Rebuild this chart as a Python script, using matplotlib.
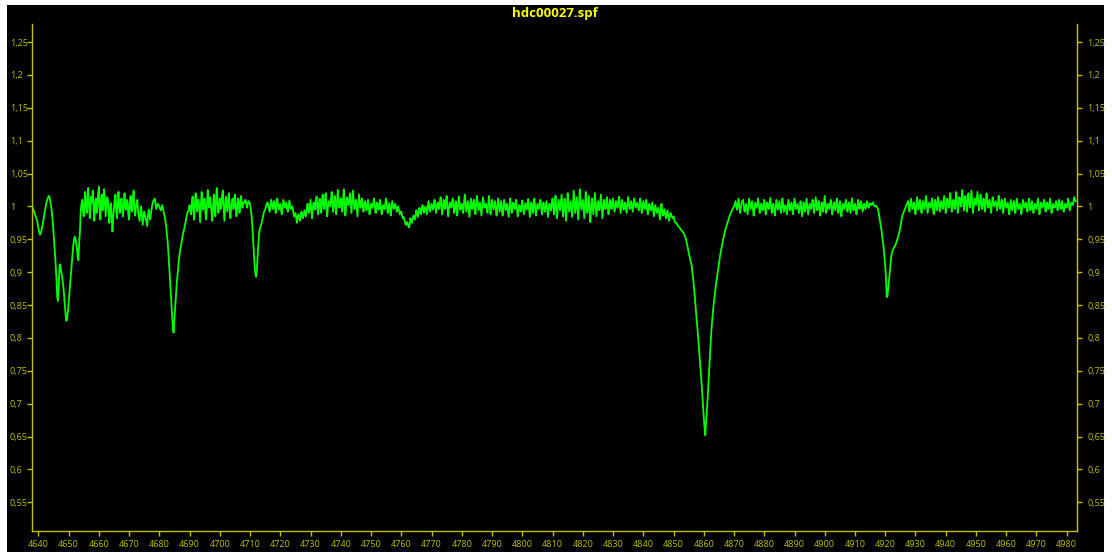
import numpy as np
import matplotlib
matplotlib.use("Agg")
import matplotlib.pyplot as plt
from matplotlib.patches import Rectangle
from matplotlib.ticker import FixedLocator, FuncFormatter

# Spectrum sampling: first wavelength (Angstrom) and step
wave_start = 4638.0
wave_step = 0.25

# Normalised flux, in thousandths, one row per 5 Angstrom
flux_milli = [
    1000, 996, 993, 990, 986, 983, 979, 975, 967, 962, 957, 959, 963, 968, 975, 982, 989, 995, 1002, 1007,
    1011, 1014, 1016, 1013, 1007, 1000, 990, 978, 962, 946, 928, 910, 890, 862, 856, 880, 909, 912, 902, 896,
    888, 878, 866, 850, 836, 826, 828, 840, 852, 868, 882, 896, 910, 924, 938, 948, 954, 952, 944, 936,
    924, 918, 945, 962, 992, 1004, 1010, 994, 985, 1006, 1022, 998, 990, 1012, 1028, 1002, 982, 1000, 1015, 1006,
    1024, 998, 978, 1006, 1012, 990, 996, 1018, 1030, 1002, 980, 1008, 1018, 994, 1002, 1026, 1012, 985, 1000, 1014,
    1010, 990, 975, 998, 1005, 985, 962, 980, 998, 1010, 1018, 996, 982, 1004, 1022, 1000, 990, 1008, 1012, 994,
    985, 1004, 1020, 998, 995, 1010, 1008, 988, 980, 1002, 1016, 996, 992, 1012, 1024, 1000, 986, 998, 1005, 1010,
    990, 984, 978, 992, 1000, 986, 972, 982, 992, 988, 982, 976, 970, 986, 995, 988, 980, 990, 998, 1004,
    1008, 1010, 1012, 1004, 996, 1000, 1004, 1002, 1000, 996, 994, 998, 1002, 996, 990, 985, 978, 970, 958, 946,
    930, 910, 888, 870, 850, 830, 812, 808, 830, 848, 866, 882, 895, 908, 920, 930, 937, 944, 950, 956,
    962, 966, 972, 978, 985, 990, 992, 996, 1002, 994, 988, 1006, 1015, 996, 980, 1004, 1020, 1002, 992, 1010,
    1010, 994, 976, 1002, 1022, 1004, 995, 1010, 1012, 990, 980, 1004, 1025, 1008, 998, 1014, 1006, 990, 978, 996,
    1018, 1000, 985, 1010, 1028, 1006, 990, 1002, 1012, 996, 1000, 1016, 1024, 1000, 978, 996, 1015, 1004, 992, 1008,
    1020, 998, 982, 1000, 1008, 1012, 996, 1004, 1018, 1000, 985, 998, 1012, 1006, 990, 1002, 1016, 1004, 998, 1006,
    1005, 1008, 1010, 1004, 998, 1004, 1008, 1006, 1004, 996, 985, 970, 950, 930, 910, 898, 893, 905, 925, 944,
    960, 966, 970, 974, 978, 984, 990, 993, 995, 1000, 1004, 1006, 1003, 996, 992, 1002, 1010, 1002, 996, 1004,
    1008, 998, 990, 1004, 1012, 1002, 995, 1000, 1004, 994, 988, 998, 1010, 1004, 998, 1002, 1006, 996, 992, 1000,
    1009, 1002, 996, 998, 1000, 992, 985, 988, 990, 982, 975, 984, 988, 982, 978, 986, 992, 986, 982, 988,
    994, 990, 985, 996, 1004, 996, 990, 1000, 1010, 994, 982, 998, 1006, 1000, 995, 1008, 1015, 998, 988, 1004,
    1012, 1000, 990, 1006, 1018, 1004, 996, 1010, 1020, 998, 985, 1000, 1008, 1004, 1000, 1012, 1022, 1004, 992, 1006,
    1016, 1000, 988, 1008, 1025, 1010, 998, 1004, 1012, 1000, 992, 1012, 1026, 1004, 986, 1000, 1014, 1008, 1002, 1010,
    1020, 1004, 990, 1008, 1024, 1010, 996, 1002, 1010, 998, 985, 1004, 1018, 1008, 998, 1006, 1012, 1000, 992, 1002,
    1008, 1000, 994, 1004, 1010, 998, 988, 996, 1004, 1000, 998, 1006, 1012, 1000, 990, 998, 1006, 1000, 995, 1002,
    1010, 998, 988, 996, 1002, 1000, 996, 1006, 1012, 1000, 990, 998, 1005, 994, 986, 998, 1008, 1002, 996, 1000,
    1004, 998, 992, 998, 1000, 994, 988, 992, 992, 986, 982, 984, 980, 976, 972, 975, 976, 972, 968, 972,
    982, 978, 975, 980, 986, 983, 980, 988, 994, 988, 984, 992, 998, 992, 988, 996, 1002, 996, 990, 996,
    1000, 994, 988, 998, 1008, 1000, 992, 998, 1004, 1000, 995, 1004, 1010, 1000, 990, 998, 1006, 1002, 996, 1006,
    1014, 1000, 988, 998, 1010, 1002, 996, 1008, 1016, 998, 985, 996, 1006, 1002, 998, 1006, 1012, 1000, 990, 1000,
    1008, 996, 986, 1002, 1015, 1004, 995, 1000, 1004, 996, 990, 1006, 1018, 1004, 992, 1000, 1008, 996, 984, 998,
    1012, 1004, 996, 1004, 1010, 998, 988, 1002, 1016, 1006, 994, 1000, 1006, 996, 986, 1000, 1014, 1006, 998, 1002,
    1004, 996, 990, 1004, 1016, 1002, 988, 1000, 1010, 1002, 995, 1002, 1008, 996, 986, 1000, 1012, 1002, 992, 1000,
    1008, 996, 986, 998, 1010, 1002, 994, 1000, 1004, 994, 984, 998, 1012, 1000, 990, 998, 1006, 1000, 996, 1004,
    1010, 996, 985, 994, 1002, 996, 992, 1002, 1009, 998, 988, 996, 1005, 1000, 995, 1004, 1011, 996, 984, 996,
    1006, 998, 990, 1002, 1012, 998, 986, 996, 1004, 1000, 996, 1004, 1010, 998, 988, 998, 1006, 998, 992, 1000,
    1008, 996, 984, 996, 1004, 998, 994, 1004, 1012, 1000, 988, 1004, 1016, 998, 982, 998, 1010, 1002, 994, 1006,
    1018, 1000, 985, 1000, 1012, 994, 978, 1000, 1020, 1004, 992, 1000, 1008, 996, 984, 1004, 1024, 1006, 990, 1002,
    1014, 996, 980, 1004, 1026, 1008, 995, 1002, 1010, 996, 982, 1002, 1022, 1004, 990, 1004, 1016, 996, 976, 996,
    1012, 1000, 988, 1004, 1020, 1002, 985, 996, 1008, 1000, 994, 1006, 1018, 1000, 982, 996, 1010, 1002, 996, 1004,
    1014, 1000, 988, 998, 1010, 1004, 996, 1004, 1012, 1002, 992, 1000, 1008, 1002, 998, 1006, 1015, 1002, 990, 1000,
    1010, 1002, 995, 1000, 1006, 998, 990, 1002, 1014, 1004, 996, 1002, 1008, 1000, 992, 1002, 1012, 1004, 998, 1002,
    1006, 1000, 994, 1002, 1012, 1000, 990, 998, 1008, 1002, 996, 1004, 1010, 998, 988, 996, 1004, 998, 994, 1000,
    1006, 996, 985, 994, 1002, 996, 990, 994, 998, 990, 980, 992, 1004, 994, 986, 990, 996, 988, 982, 988,
    994, 986, 978, 984, 990, 986, 984, 982, 985, 980, 976, 975, 975, 972, 970, 969, 968, 966, 964, 963,
    962, 960, 958, 955, 952, 947, 942, 936, 930, 925, 920, 915, 910, 900, 890, 878, 865, 850, 835, 822,
    810, 795, 780, 765, 750, 733, 715, 698, 680, 664, 652, 670, 690, 708, 725, 748, 770, 790, 810, 825,
    838, 850, 860, 870, 880, 888, 895, 904, 913, 920, 928, 934, 940, 946, 952, 957, 962, 966, 970, 974,
    977, 981, 985, 988, 990, 993, 996, 998, 1000, 1004, 1008, 1000, 995, 1004, 1012, 1000, 990, 998, 1005, 1008,
    1010, 1000, 992, 998, 1004, 996, 988, 1000, 1012, 1004, 996, 1002, 1008, 996, 986, 996, 1006, 1002, 998, 1004,
    1012, 1000, 990, 998, 1004, 998, 994, 1002, 1010, 998, 988, 998, 1006, 1000, 996, 1004, 1013, 1000, 990, 998,
    1004, 994, 986, 998, 1010, 1002, 995, 1002, 1008, 998, 990, 1000, 1012, 1002, 992, 998, 1002, 996, 988, 998,
    1010, 1002, 994, 1000, 1006, 996, 988, 1000, 1012, 1004, 996, 1000, 1004, 996, 990, 998, 1008, 996, 985, 996,
    1006, 998, 992, 1002, 1012, 1000, 988, 996, 1004, 1000, 996, 1004, 1010, 998, 990, 1002, 1014, 1004, 994, 1000,
    1008, 996, 986, 996, 1006, 1000, 992, 1004, 1016, 1002, 990, 996, 1004, 1000, 996, 1004, 1010, 998, 988, 998,
    1006, 1000, 994, 1004, 1012, 1000, 990, 998, 1008, 996, 985, 996, 1004, 1000, 996, 1004, 1010, 1000, 992, 1000,
    1006, 998, 990, 1002, 1012, 1002, 994, 1000, 1004, 996, 988, 998, 1010, 1004, 996, 1002, 1008, 1000, 992, 998,
    1004, 1000, 996, 1002, 1008, 1002, 998, 1002, 1005, 1004, 1002, 1004, 1006, 1002, 1000, 1001, 1001, 999, 997, 993,
    985, 979, 972, 964, 955, 946, 935, 923, 910, 890, 862, 865, 875, 888, 900, 912, 925, 930, 933, 936,
    938, 940, 943, 946, 950, 954, 958, 963, 968, 976, 983, 987, 990, 993, 996, 999, 1002, 1004, 1008, 1002,
    992, 1002, 1012, 1004, 996, 1000, 1006, 998, 988, 1002, 1014, 1004, 995, 1002, 1010, 998, 990, 1000, 1008, 1002,
    996, 1006, 1016, 1002, 990, 998, 1006, 1002, 998, 1006, 1012, 1000, 988, 1000, 1010, 1004, 994, 1004, 1014, 1004,
    992, 1000, 1008, 1004, 996, 1006, 1016, 1002, 990, 1002, 1012, 1006, 998, 1008, 1020, 1004, 992, 1000, 1010, 1004,
    996, 1010, 1022, 1004, 990, 1002, 1014, 1008, 1000, 1012, 1025, 1008, 994, 1004, 1016, 1006, 992, 1006, 1020, 1006,
    998, 1012, 1024, 1006, 990, 1000, 1012, 1008, 1002, 1012, 1022, 1006, 994, 1006, 1018, 1006, 996, 1004, 1012, 1004,
    992, 1006, 1020, 1008, 998, 1004, 1010, 1000, 990, 1002, 1014, 1006, 1000, 1004, 1008, 1002, 994, 1004, 1016, 1004,
    996, 1002, 1010, 1000, 990, 1000, 1012, 1004, 998, 1002, 1006, 996, 988, 998, 1010, 1002, 994, 1002, 1008, 1000,
    990, 1000, 1012, 1004, 996, 1000, 1004, 996, 988, 998, 1010, 1004, 998, 1002, 1006, 998, 992, 1002, 1012, 1002,
    994, 1000, 1008, 998, 990, 998, 1004, 1000, 996, 1004, 1012, 1000, 988, 998, 1006, 1002, 998, 1004, 1010, 1002,
    992, 998, 1006, 1000, 996, 1004, 1012, 1000, 990, 998, 1004, 1000, 998, 1002, 1008, 1000, 994, 1002, 1010, 1002,
    996, 1002, 1008, 998, 992, 998, 1004, 1000, 998, 1004, 1012, 1002, 994, 1000, 1006, 1004, 1002, 1008, 1014, 1010,
    1008,
]

x_ticks = list(range(4640, 4981, 10))
y_ticks = [0.55, 0.6, 0.65, 0.7, 0.75, 0.8, 0.85, 0.9, 0.95, 1.0,
           1.05, 1.1, 1.15, 1.2, 1.25]
title_text = "hdc00027.spf"

flux = np.array(flux_milli) / 1000.0
wave = wave_start + wave_step * np.arange(len(flux))

axis_color = "#c0c000"
tick_family = ["Open Sans", "DejaVu Sans"]
tick_size = 6.5
y_range = (0.5068, 1.2774)


def comma_fmt(v, pos):
    s = ("%.2f" % v).rstrip("0").rstrip(".")
    return s.replace(".", ",")


fig = plt.figure(figsize=(11.12, 5.52), dpi=100, facecolor="white")
fig.patches.append(Rectangle((7 / 1112, 0), 1097 / 1112, 547 / 552,
                             transform=fig.transFigure, facecolor="black",
                             edgecolor="none", zorder=-10))

ax = fig.add_axes([32.3 / 1112, 21.3 / 552, 1044.4 / 1112, 506.7 / 552])
ax.set_facecolor("black")
ax.plot(wave, flux, color="#00ff00", lw=1.3, antialiased=True)
ax.set_xlim(4638.0, 4983.3)
ax.set_ylim(*y_range)

ax.spines["top"].set_visible(False)
for side in ("left", "right", "bottom"):
    ax.spines[side].set_color(axis_color)
    ax.spines[side].set_linewidth(1.0)

ax.xaxis.set_major_locator(FixedLocator(x_ticks))
ax.xaxis.set_major_formatter(FuncFormatter(lambda v, p: "%d" % v))
ax.yaxis.set_major_locator(FixedLocator(y_ticks))
ax.yaxis.set_major_formatter(FuncFormatter(comma_fmt))

ax.tick_params(axis="x", colors=axis_color, length=3.5, width=1, pad=3,
               labelsize=tick_size)
ax.tick_params(axis="y", colors=axis_color, length=3.5, width=1,
               pad=12.8, labelsize=tick_size)
for lab in ax.get_xticklabels() + ax.get_yticklabels():
    lab.set_fontfamily(tick_family)
for lab in ax.get_yticklabels():
    lab.set_horizontalalignment("left")

# Right-hand scale repeats the flux ticks
ax2 = ax.twinx()
ax2.set_ylim(*y_range)
ax2.yaxis.set_major_locator(FixedLocator(y_ticks))
ax2.yaxis.set_major_formatter(FuncFormatter(comma_fmt))
for side in ("top", "left", "bottom"):
    ax2.spines[side].set_visible(False)
ax2.spines["right"].set_color(axis_color)
ax2.tick_params(axis="y", colors=axis_color, length=3.5, width=1, pad=4.0,
                labelsize=tick_size)
for lab in ax2.get_yticklabels():
    lab.set_fontfamily(tick_family)

fig.text(554.5 / 1112, 1 - 13.5 / 552, title_text, color="#ffff00",
         ha="center", va="center", fontsize=9.5, fontweight="bold",
         family=["Open Sans", "DejaVu Sans"])

fig.savefig("out.png", dpi=100, facecolor=fig.get_facecolor())
